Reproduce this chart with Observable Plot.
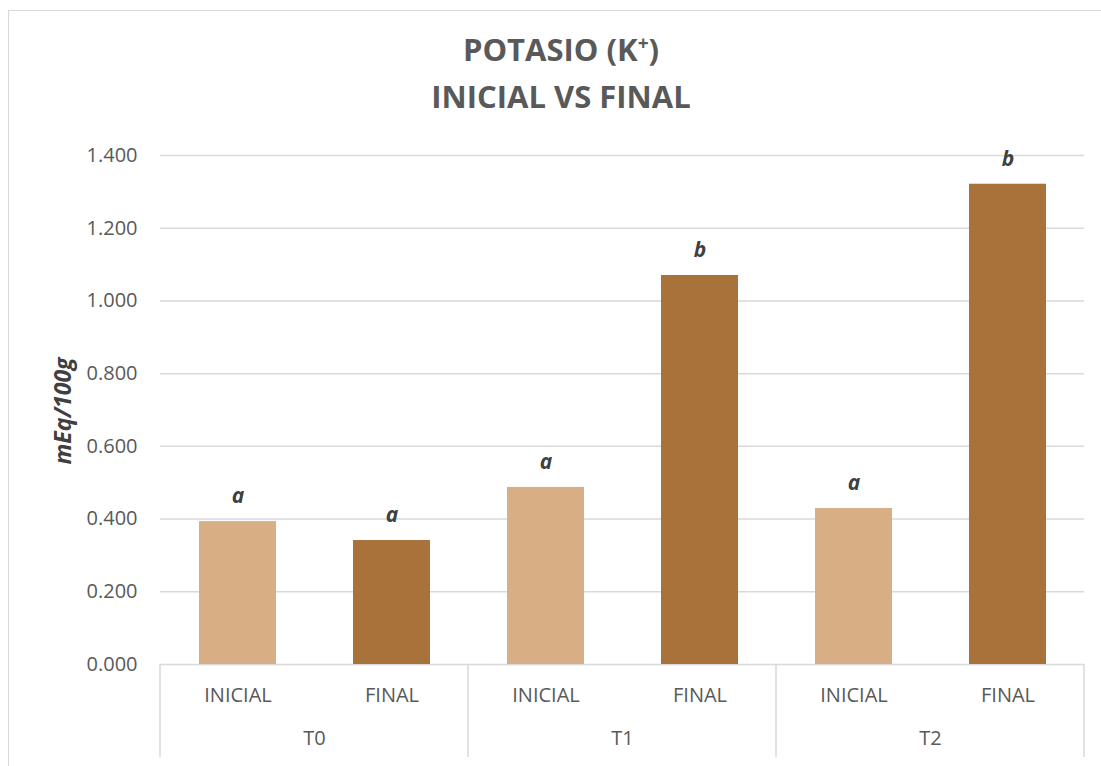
<!DOCTYPE html>
<html>
<head>
<meta charset="utf-8">
<script src="https://cdn.jsdelivr.net/npm/d3@7"></script>
<script src="https://cdn.jsdelivr.net/npm/@observablehq/plot@0.6"></script>
<style>
  html, body { margin: 0; padding: 0; background: #fff; }
  #wrap { position: relative; width: 1101px; height: 766px; overflow: hidden; font-family: "Open Sans", sans-serif; }
  #border { position: absolute; left: 8px; top: 10px; width: 1200px; height: 900px; border-top: 1.5px solid #d9d9d9; border-left: 1.5px solid #d9d9d9; box-sizing: border-box; }
  #title { position: absolute; top: 26px; left: 0; width: 1122px; text-align: center; font-weight: 700; font-size: 31px; line-height: 47px; color: #595959; }
  #title sup { font-size: 19px; vertical-align: 11px; line-height: 0; }
  #chart { position: absolute; left: 0; top: 125px; }
  #ylabel { position: absolute; left: 62px; top: 411px; transform: translate(-50%, -50%) rotate(-90deg); font-weight: 700; font-style: italic; font-size: 23px; color: #404040; white-space: nowrap; }
</style>
</head>
<body>
<div id="wrap">
  <div id="border"></div>
  <div id="title">POTASIO (K<sup>+</sup>)<br>INICIAL VS FINAL</div>
  <div id="ylabel">mEq/100g</div>
  <div id="chart"></div>
</div>
<script>
const groups = ["T0", "T1", "T2"];
const stages = ["INICIAL", "FINAL"];
const inicialValues = [0.393, 0.487, 0.429];
const finalValues = [0.341, 1.070, 1.321];
const inicialLetters = ["a", "a", "a"];
const finalLetters = ["a", "b", "b"];
const yTicks = [0, 0.2, 0.4, 0.6, 0.8, 1.0, 1.2, 1.4];
const stageColors = ["#D8AE85", "#A9723A"];

const data = [];
groups.forEach((g, i) => {
  data.push({group: g, stage: stages[0], value: inicialValues[i], letter: inicialLetters[i]});
  data.push({group: g, stage: stages[1], value: finalValues[i], letter: finalLetters[i]});
});

const W = 1101, H = 632;
const plot = Plot.plot({
  width: W,
  height: H,
  marginTop: 30,
  marginBottom: 93,
  marginLeft: 160,
  marginRight: 17,
  style: {fontFamily: "Open Sans, sans-serif", fontSize: "20px", color: "#595959", background: "transparent"},
  fx: {domain: groups, padding: 0, axis: null},
  x: {domain: stages, paddingInner: 0.5, paddingOuter: 0.25, axis: null},
  y: {domain: [0, 1.4], ticks: yTicks, tickFormat: d => d.toFixed(3), tickSize: 0, tickPadding: 23, label: null},
  color: {domain: stages, range: stageColors},
  marks: [
    Plot.ruleY(yTicks, {stroke: "#d9d9d9", strokeWidth: 1.5}),
    Plot.barY(data, {fx: "group", x: "stage", y: "value", fill: "stage"}),
    Plot.text(data, {fx: "group", x: "stage", y: "value", text: "letter", dy: -25, fontWeight: 700, fontStyle: "italic", fill: "#404040", fontSize: 21}),
    Plot.text(data, {fx: "group", x: "stage", text: "stage", frameAnchor: "bottom", dy: 37, fill: "#595959", fontSize: 20}),
    Plot.text(groups, {fx: d => d, text: d => d, frameAnchor: "bottom", dy: 80, fill: "#595959", fontSize: 20})
  ]
});
document.getElementById("chart").appendChild(plot);

// facet separators on the category axis, placed with Plot's own fx/y scales
const fxScale = plot.scale("fx");
const yScale = plot.scale("y");
const svg = d3.select(plot);
const y0 = yScale.apply(0);
const edges = groups.map(g => fxScale.apply(g));
edges.push(fxScale.apply(groups[groups.length - 1]) + fxScale.bandwidth);
svg.append("g").selectAll("line").data(edges).join("line")
  .attr("x1", d => d).attr("x2", d => d)
  .attr("y1", y0).attr("y2", H)
  .attr("stroke", "#d9d9d9").attr("stroke-width", 1.5);
</script>
</body>
</html>
